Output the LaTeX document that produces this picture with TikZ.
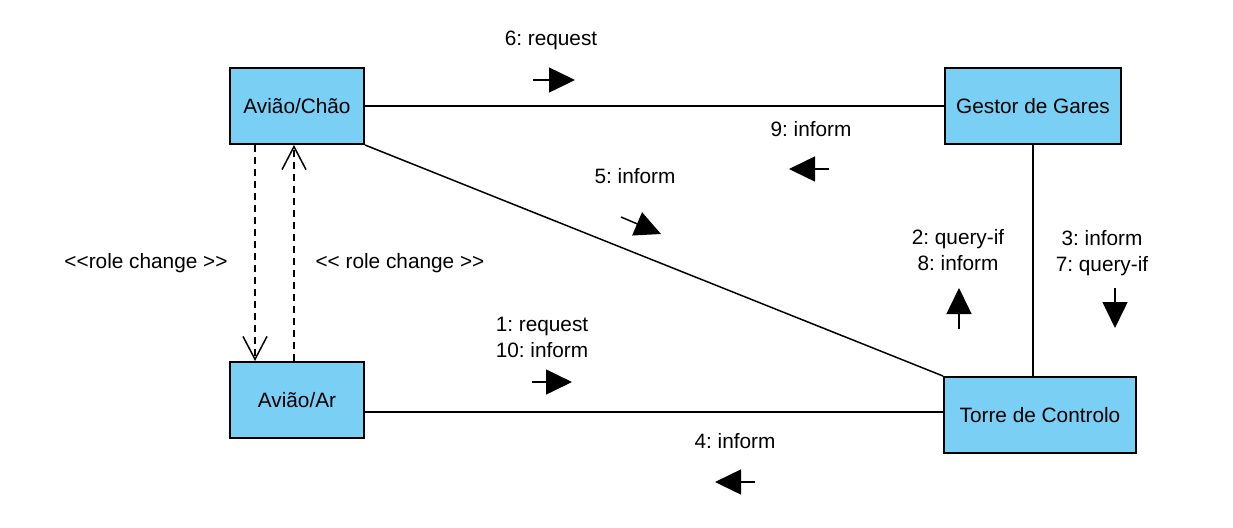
\documentclass[tikz,border=0pt]{standalone}
\usepackage{fontspec}
\setmainfont{Liberation Sans}[Ligatures=TeXOff]
\usepackage{tikz}
\usetikzlibrary{arrows.meta}
\definecolor{agentblue}{RGB}{122,207,245}
\newcommand{\heightagent}{38pt}
\newcommand{\widthplane}{67pt}
\frenchspacing
\tikzset{
    common/.style={font=\fontsize{10.4}{13}\selectfont},
    agent/.style={common, draw, rectangle, fill=agentblue, line width=1pt, minimum height=\heightagent},
    plane/.style={agent, minimum width=\widthplane},
    link/.style={line width=0.75pt},
    rolechange/.style={link, dash pattern=on 3.5pt off 2.5pt, -{Straight Barb[length=11.5pt, width=12pt]}},
    msg/.style={link, -{Triangle[length=13pt, width=12.5pt]}},
    msglabel/.style={common, align=center, inner sep=0pt}
}
\begin{document}
\begin{tikzpicture}[x=0.5pt, y=-0.5pt]
    \useasboundingbox (0,0) rectangle (1233,527);
    % agents
    \node[plane] (chao) at (297,106) {Avião/Chão};
    \node[agent, minimum width=88pt] (gestor) at (1033,106) {Gestor de Gares};
    \node[plane] (ar) at (297,400) {Avião/Ar};
    \node[agent, minimum width=96pt] (torre) at (1040,415) {Torre de Controlo};
    % links
    \draw[link] (chao.east) -- (gestor.west);
    \draw[link] (chao.south east) -- (torre.north west);
    \draw[link] ([yshift=-6pt]ar.east) -- ([yshift=-6pt]ar.east -| torre.west);
    \draw[link] (gestor.south) -- (gestor.south |- torre.north);
    \draw[rolechange] ([xshift=-21pt]chao.south) -- ([xshift=-21pt]ar.north);
    \draw[rolechange] ([xshift=-1.5pt]ar.north) -- ([xshift=-1.5pt]chao.south);
    \node[msglabel] (rc1) at (146,263) {<<role change >>};
    \node[msglabel] (rc2) at (400,263) {<< role change >>};
    % messages
    \node[msglabel] (l6) at (551,40) {6: request};
    \coordinate (m6a) at (533,80);
    \coordinate (m6b) at (575,80);
    \draw[msg] (m6a) -- (m6b);
    \node[msglabel] (l9) at (811,129) {9: inform};
    \coordinate (m9a) at (829,169);
    \coordinate (m9b) at (789,169);
    \draw[msg] (m9a) -- (m9b);
    \node[msglabel] (l5) at (635,176) {5: inform};
    \coordinate (m5a) at (621,217);
    \coordinate (m5b) at (661,234);
    \draw[msg] (m5a) -- (m5b);
    \node[msglabel] (l2) at (958,250) {2: query-if\\8: inform};
    \coordinate (m2a) at (959,329);
    \coordinate (m2b) at (959,288);
    \draw[msg] (m2a) -- (m2b);
    \node[msglabel] (l3) at (1102,253) {3: inform\\7: query-if};
    \coordinate (m3a) at (1115,288);
    \coordinate (m3b) at (1115,328);
    \draw[msg] (m3a) -- (m3b);
    \node[msglabel] (l1) at (542,337) {1: request\\10: inform};
    \coordinate (m1a) at (532,382);
    \coordinate (m1b) at (572,382);
    \draw[msg] (m1a) -- (m1b);
    \node[msglabel] (l4) at (735,441) {4: inform};
    \coordinate (m4a) at (755,482);
    \coordinate (m4b) at (715,482);
    \draw[msg] (m4a) -- (m4b);
\end{tikzpicture}
\end{document}
